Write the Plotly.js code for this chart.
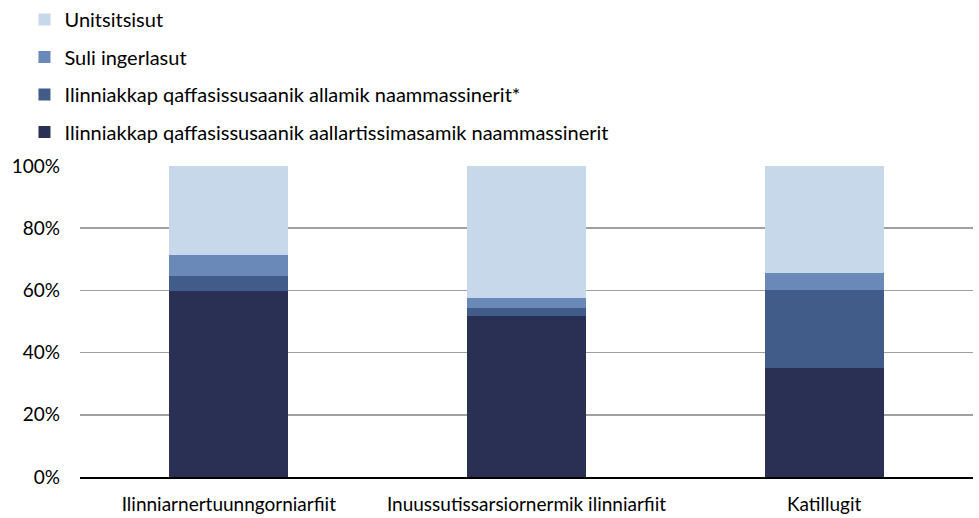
<!DOCTYPE html>
<html><head><meta charset="utf-8">
<script src="https://cdn.plot.ly/plotly-3.0.1.min.js"></script>
<style>body{margin:0;background:#fff}#c{width:979px;height:518px}</style>
</head><body><div id="c"></div>
<script>
const categories = ["Ilinniarnertuunngorniarfiit", "Inuussutissarsiornermik ilinniarfiit", "Katillugit"];
const aallartissimasamik = [59.7, 51.9, 35.0];
const allamik = [4.8, 2.5, 25.2];
const suliIngerlasut = [6.9, 3.3, 5.3];
const unitsitsisut = [28.6, 42.3, 34.5];
const seriesNames = [
  "Ilinniakkap qaffasissusaanik aallartissimasamik naammassinerit",
  "Ilinniakkap qaffasissusaanik allamik naammassinerit*",
  "Suli ingerlasut",
  "Unitsitsisut"
];
const colors = ["#2A3054", "#415C88", "#6A88B8", "#C8D8EB"];
const vals = [aallartissimasamik, allamik, suliIngerlasut, unitsitsisut];
const traces = vals.map((v, i) => ({
  type: "bar", x: categories, y: v, name: seriesNames[i],
  marker: {color: colors[i], line: {width: 0}},
  legendgroup: "g" + i, legendrank: 4 - i, hoverinfo: "none"
}));
const font = {family: "Lato, Liberation Sans, Arial, sans-serif", size: 19, color: "#000"};
const legendFont = {family: "Lato, Liberation Sans, Arial, sans-serif", size: 20, color: "#000"};
Plotly.newPlot("c", traces, {
  width: 979, height: 518, barmode: "stack", bargap: 0.6,
  margin: {l: 80, r: 6, t: 166, b: 41, autoexpand: false},
  font: font,
  showlegend: true,
  legend: {xref: "container", yref: "container", x: 0.025, y: 1.0, xanchor: "left", yanchor: "top",
    traceorder: "grouped", tracegroupgap: 8.5, font: legendFont, bgcolor: "rgba(0,0,0,0)"},
  yaxis: {range: [0, 100], dtick: 20, ticksuffix: "%", showgrid: true, gridcolor: "#A0A0A0", gridwidth: 1.5,
    zeroline: false, showline: false, ticks: "", ticklabelstandoff: 19, fixedrange: true},
  xaxis: {showline: true, linecolor: "#000", linewidth: 2, ticks: "", tickangle: 0, ticklabelstandoff: 9, showgrid: false, fixedrange: true},
  plot_bgcolor: "#fff", paper_bgcolor: "#fff"
}, {displayModeBar: false, staticPlot: true});
</script></body></html>
